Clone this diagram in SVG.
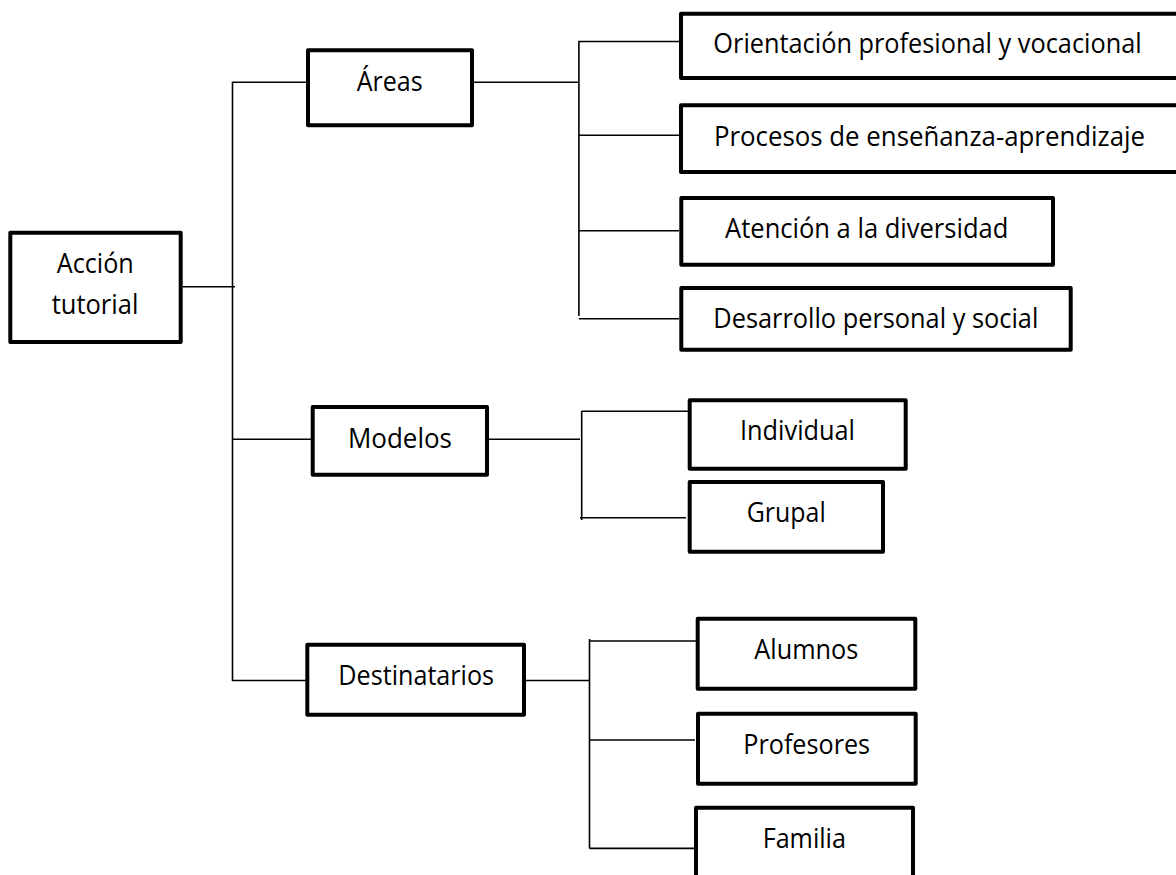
<svg xmlns="http://www.w3.org/2000/svg" width="1176" height="875" viewBox="0 0 1176 875">
<style>
.box{fill:#fff;stroke:#000;stroke-width:4;stroke-linejoin:round}
.lbl{font-family:"Open Sans","Noto Sans","Liberation Sans",sans-serif;font-size:27px;fill:#000;text-anchor:middle}
.cn{stroke:#000;stroke-width:1.6;fill:none}
</style>
<rect width="1176" height="875" fill="#fff"/>
<g id="connectors">
<path class="cn" d="M182.7 286.7H235 M232.5 81.5V681 M232.5 82.3H306 M232.5 439.3H311 M232.5 680.5H306"/>
<path class="cn" d="M474 82.3H578 M578.9 40.7V316 M578.9 41.5H679 M578.9 135.3H679 M578.9 230.8H679 M578.9 318.8H679"/>
<path class="cn" d="M489 439.3H580 M581.7 411V520 M581.7 411.2H688 M580 517.8H686"/>
<path class="cn" d="M526 680.5H589.5 M589.5 639V848.5 M589.5 641H696 M589.5 740H695 M589.5 848.4H695"/>
</g>
<g id="n-accion"><rect class="box" x="10.3" y="232.7" width="170.4" height="109.3"/><text class="lbl" x="95.3" y="272.7" textLength="77" lengthAdjust="spacingAndGlyphs">Acción</text><text class="lbl" x="95" y="314.3" textLength="86.7" lengthAdjust="spacingAndGlyphs">tutorial</text></g>
<g id="n-areas"><rect class="box" x="308" y="50.3" width="164" height="75"/><text class="lbl" x="389.7" y="90.7" textLength="66" lengthAdjust="spacingAndGlyphs">Áreas</text></g>
<g id="n-modelos"><rect class="box" x="312.7" y="407" width="174.3" height="67.7"/><text class="lbl" x="400" y="448.3" textLength="104" lengthAdjust="spacingAndGlyphs">Modelos</text></g>
<g id="n-destinatarios"><rect class="box" x="307.3" y="644.7" width="216.7" height="70"/><text class="lbl" x="416.2" y="685" textLength="155.7" lengthAdjust="spacingAndGlyphs">Destinatarios</text></g>
<g id="n-orientacion"><rect class="box" x="681" y="13.7" width="510" height="64.3"/><text class="lbl" x="927.5" y="53" textLength="428.3" lengthAdjust="spacingAndGlyphs">Orientación profesional y vocacional</text></g>
<g id="n-procesos"><rect class="box" x="681" y="105.3" width="510" height="66.7"/><text class="lbl" x="929.5" y="145.7" textLength="431" lengthAdjust="spacingAndGlyphs">Procesos de enseñanza-aprendizaje</text></g>
<g id="n-atencion"><rect class="box" x="681.3" y="198" width="371.7" height="66.7"/><text class="lbl" x="866.7" y="238.3" textLength="283.3" lengthAdjust="spacingAndGlyphs">Atención a la diversidad</text></g>
<g id="n-desarrollo"><rect class="box" x="681.3" y="288" width="389.4" height="61.7"/><text class="lbl" x="875.8" y="327.7" textLength="325" lengthAdjust="spacingAndGlyphs">Desarrollo personal y social</text></g>
<g id="n-individual"><rect class="box" x="689.7" y="400.3" width="216" height="68.4"/><text class="lbl" x="797.5" y="440" textLength="115" lengthAdjust="spacingAndGlyphs">Individual</text></g>
<g id="n-grupal"><rect class="box" x="689.7" y="482" width="193.3" height="69.7"/><text class="lbl" x="786.2" y="521.7" textLength="79" lengthAdjust="spacingAndGlyphs">Grupal</text></g>
<g id="n-alumnos"><rect class="box" x="697.7" y="618.7" width="217.6" height="70"/><text class="lbl" x="806.3" y="659.3" textLength="104" lengthAdjust="spacingAndGlyphs">Alumnos</text></g>
<g id="n-profesores"><rect class="box" x="698" y="713.7" width="217.7" height="70"/><text class="lbl" x="806.7" y="754" textLength="126.7" lengthAdjust="spacingAndGlyphs">Profesores</text></g>
<g id="n-familia"><rect class="box" x="696" y="807.7" width="217" height="85"/><text class="lbl" x="804.3" y="848.3" textLength="83.3" lengthAdjust="spacingAndGlyphs">Familia</text></g>
</svg>
